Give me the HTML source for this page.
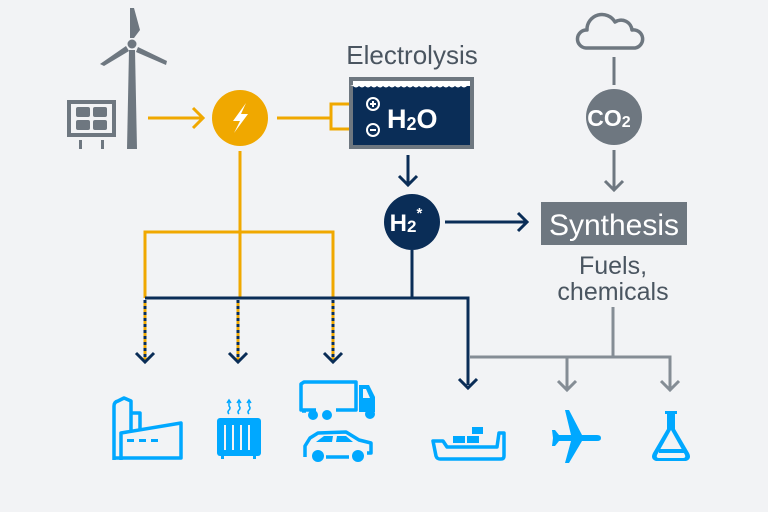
<!DOCTYPE html>
<html><head><meta charset="utf-8"><style>
html,body{margin:0;padding:0;background:#f2f3f5;}
svg{display:block;font-family:"Liberation Sans",sans-serif;}
</style></head><body>
<svg width="768" height="512" viewBox="0 0 768 512">
<rect width="768" height="512" fill="#f2f3f5"/>
<!-- wind turbine -->
<g fill="#6e7780">
<polygon points="129,50 135,50 137,149 127,149"/>
<circle cx="132" cy="44" r="4.5"/>
<polygon points="130,8 134,8 140,30 134,38 130,38"/>
<polygon points="126,46 129,51 104,66 100,64"/>
<polygon points="138,47 167,61 166,65 136,52"/>
</g>
<!-- solar panel -->
<rect x="67" y="100" width="49" height="37" fill="#6e7780"/>
<rect x="71" y="104" width="41" height="29" fill="#f2f3f5"/>
<g fill="#6e7780"><rect x="76" y="107" width="14" height="10" rx="2"/><rect x="93" y="107" width="14" height="10" rx="2"/><rect x="76" y="120" width="14" height="10" rx="2"/><rect x="93" y="120" width="14" height="10" rx="2"/>
<rect x="79" y="140" width="3" height="9"/><rect x="101" y="140" width="3" height="9"/></g>
<!-- yellow lines -->
<g stroke="#f0a800" stroke-width="3" fill="none">
<line x1="148" y1="118" x2="203" y2="118"/>
<polyline points="193,108 203,118 193,128"/>
<line x1="277" y1="118" x2="331" y2="118"/>
<polyline points="367,104 331,104 331,129 367,129"/>
<line x1="240" y1="151" x2="240" y2="298"/>
<polyline points="145,298 145,232 333,232 333,298"/>
</g>
<circle cx="240" cy="118" r="28" fill="#f0a800"/>
<polygon points="246,103 233,121 240,121 234,133 248,114 241,114" fill="#fff"/>
<!-- electrolysis -->
<text x="412" y="64" font-size="26" fill="#4a5560" text-anchor="middle">Electrolysis</text>
<rect x="349" y="77" width="125" height="72" fill="#6e7780"/>
<rect x="353" y="81" width="117" height="64" fill="#0a2d57"/>
<rect x="353" y="81" width="117" height="5" fill="#fff"/>
<path d="M353,86 q3,3 6,0 q3,3 6,0 q3,3 6,0 q3,3 6,0 q3,3 6,0 q3,3 6,0 q3,3 6,0 q3,3 6,0 q3,3 6,0 q3,3 6,0 q3,3 6,0 q3,3 6,0 q3,3 6,0 q3,3 6,0 q3,3 6,0 q3,3 6,0 q3,3 6,0 q3,3 6,0 q3,3 6,0 v-1 h-117z" fill="#fff"/>
<circle cx="373" cy="104" r="6" fill="#0a2d57" stroke="#fff" stroke-width="2"/>
<rect x="370" y="103" width="6" height="2" fill="#fff"/><rect x="372" y="101" width="2" height="6" fill="#fff"/>
<circle cx="373" cy="130" r="6" fill="#0a2d57" stroke="#fff" stroke-width="2"/>
<rect x="370" y="129" width="6" height="2" fill="#fff"/>
<text x="387" y="128" font-size="27" font-weight="bold" fill="#fff">H<tspan font-size="18" dy="2">2</tspan><tspan dy="-2">O</tspan></text>
<!-- navy -->
<g stroke="#0a2d57" stroke-width="3" fill="none">
<line x1="408" y1="155" x2="408" y2="185"/>
<polyline points="399,176 408,185 417,176"/>
<line x1="445" y1="222" x2="527" y2="222"/>
<polyline points="518,213 527,222 518,231"/>
<line x1="412" y1="250" x2="412" y2="298"/>
<polyline points="145,298 468,298 468,385"/>
</g>
<circle cx="412" cy="222" r="28" fill="#0a2d57"/>
<text x="406" y="231" font-size="24" font-weight="bold" fill="#fff" text-anchor="middle">H<tspan font-size="17" dy="1">2</tspan><tspan font-size="15" dy="-14">*</tspan></text>
<!-- dashed drops -->
<g stroke-width="3" fill="none">
<g stroke="#f0a800"><line x1="145" y1="300" x2="145" y2="362"/><line x1="238" y1="300" x2="238" y2="362"/><line x1="333" y1="300" x2="333" y2="362"/></g>
<g stroke="#0a2d57" stroke-dasharray="3,3"><line x1="145" y1="300" x2="145" y2="362"/><line x1="238" y1="300" x2="238" y2="362"/><line x1="333" y1="300" x2="333" y2="362"/></g>
<g stroke="#0a2d57"><polyline points="136,353 145,362 154,353"/><polyline points="229,353 238,362 247,353"/><polyline points="324,353 333,362 342,353"/><polyline points="459,379 468,388 477,379"/></g>
</g>
<!-- CO2 / synthesis -->
<path d="M586,48 a9,9 0 0 1 1,-18 a15,15 0 0 1 28,-8 a11,11 0 0 1 17,8 a9,9 0 0 1 3,18 z" fill="none" stroke="#6e7780" stroke-width="3.5" stroke-linejoin="round"/>
<g stroke="#6e7780" stroke-width="3" fill="none">
<line x1="614" y1="57" x2="614" y2="85"/>
<line x1="614" y1="150" x2="614" y2="190"/>
<polyline points="605,181 614,190 623,181"/>
</g>
<circle cx="614" cy="117" r="28" fill="#6e7780"/>
<text x="609" y="126" font-size="23" font-weight="bold" fill="#fff" text-anchor="middle">CO<tspan font-size="16" dy="1">2</tspan></text>
<rect x="541" y="202" width="146" height="43" fill="#6e7780"/>
<text x="614" y="235" font-size="30" fill="#fff" text-anchor="middle">Synthesis</text>
<text x="613" y="274" font-size="25" fill="#4a5560" text-anchor="middle">Fuels,</text>
<text x="613" y="300" font-size="25" fill="#4a5560" text-anchor="middle">chemicals</text>
<g stroke="#858d95" stroke-width="3" fill="none">
<line x1="613" y1="307" x2="613" y2="357"/>
<polyline points="470,357 670,357 670,390"/>
<line x1="567" y1="357" x2="567" y2="390"/>
<polyline points="558,381 567,390 576,381"/><polyline points="661,381 670,390 679,381"/>
</g>
<!-- icons -->
<g stroke="#00a8ff" stroke-width="3.5" fill="none" stroke-linejoin="round">
<!-- factory -->
<path d="M114,460 V406 q0,-4 4,-5 l6,-3 l7,3 v30"/>
<path d="M131,413 h9 v17"/>
<path d="M121,460 V433 l60,-10 V458 H114"/>
<!-- truck -->
<path d="M316,410 H301 V384 l3,-2 H356 V410 H336"/>
<path d="M302,411 h4"/>
<!-- car -->
<path d="M305,457 V446 l5,-8 l8,-5 l28,-1 l13,8 l12,3 v10 h-4"/>
<path d="M326,457 h23"/>
<!-- ship -->
<path d="M433,441 h10 l4,6 h50 l2,-14 h5 v23 q0,3 -3,3 h-61 q-3,0 -4,-3 z"/>
</g>
<g fill="#00a8ff">
<rect x="127" y="439" width="7" height="3"/><rect x="139" y="439" width="7" height="3"/><rect x="151" y="439" width="7" height="3"/>
<!-- radiator -->
<rect x="217" y="418" width="44" height="38" rx="3"/>
<g fill="#f2f3f5"><rect x="224" y="425" width="2" height="25"/><rect x="232" y="425" width="2" height="25"/><rect x="240" y="425" width="2" height="25"/><rect x="248" y="425" width="2" height="25"/></g>
<rect x="221" y="455" width="3" height="4"/><rect x="253" y="455" width="3" height="4"/>
<!-- truck cab + wheels -->
<path d="M359,385 h10 l6,12 v15 h-16 z M363,389 v9 h7 l-4,-9z" fill-rule="evenodd"/>
<circle cx="313" cy="415" r="5"/><circle cx="327" cy="415" r="5"/><circle cx="370" cy="414" r="5"/>
<!-- car windows wheels -->
<polygon points="316,442 324,436 333,436 332,442"/><polygon points="336,442 337,436 346,436 353,442"/>
<circle cx="318" cy="456" r="6"/><circle cx="358" cy="456" r="6"/>
<!-- ship containers -->
<rect x="453" y="436" width="12" height="7"/><rect x="467" y="436" width="12" height="7"/><rect x="472" y="427" width="11" height="7"/>
<!-- plane -->
<path d="M565,410 l4,0 l13,25 l15,0 q4,0 4,3 q0,3 -4,3 l-15,0 l-13,22 l-4,0 l6,-22 l-12,0 l-4,5 l-3,0 l1,-8 l-1,-8 l3,0 l4,5 l12,0 z"/>
<!-- flask -->
<path d="M665,411 h12 v3 h-2 v15 l14,24 q3,6 -3,8 h-30 q-6,-2 -3,-8 l14,-24 v-15 h-2 z M671,414 v16 l-14,25 q-1,3 2,3 h24 q3,0 2,-3 l-14,-25 v-16 z" fill-rule="evenodd"/>
<rect x="659" y="449" width="25" height="4"/>
</g>
<!-- heat arrows -->
<g stroke="#00a8ff" stroke-width="1.5" fill="none">
<path d="M229,414 q-2,-2 0,-4 q2,-2 0,-4 v-5"/><path d="M239,414 q-2,-2 0,-4 q2,-2 0,-4 v-5"/><path d="M249,414 q-2,-2 0,-4 q2,-2 0,-4 v-5"/>
<polyline points="227,403 229,400 231,403"/><polyline points="237,403 239,400 241,403"/><polyline points="247,403 249,400 251,403"/>
</g>
</svg>
</body></html>
